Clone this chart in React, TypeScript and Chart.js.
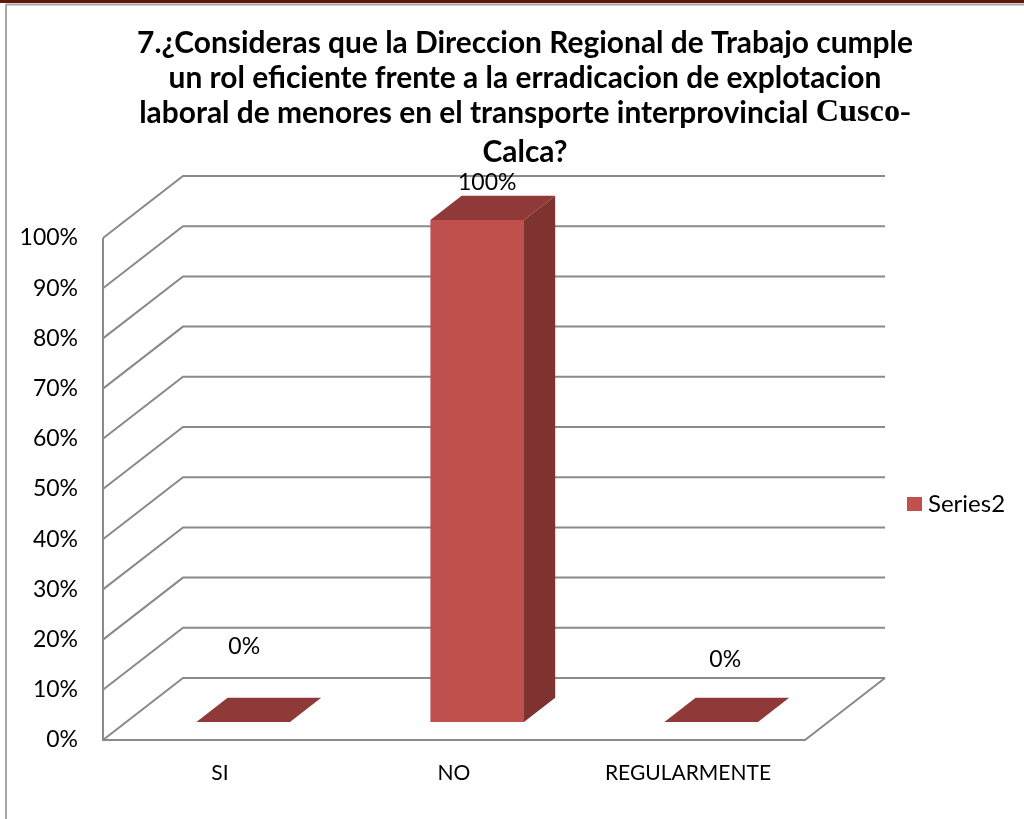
import React, { useEffect, useRef } from "react";
import { Chart, registerables } from "chart.js";

Chart.register(...registerables);

// ---- data ----
const categories: string[] = ["SI", "NO", "REGULARMENTE"];
const seriesName = "Series2";
const seriesValues: number[] = [0, 100, 0];
const valueLabels: string[] = ["0%", "100%", "0%"];
const yMin = 0;
const yMax = 100;
const yStep = 10;
const titleLines: [string, string][] = [
  ["7.¿Consideras que la Direccion Regional de Trabajo cumple", ""],
  ["un rol eficiente frente a la erradicacion de explotacion", ""],
  ["laboral de menores en el transporte interprovincial ", "Cusco-"],
  ["Calca?", ""],
];

// ---- style / layout ----
const W = 1024;
const H = 819;
const DEPTH_X = 80;
const DEPTH_Y = -62;
const BAR_FRONT = 0.29;
const BAR_BACK = 0.68;
const BAR_FRACTION = 0.4;
const FRONT_COLOR = "#C0504D";
const SIDE_COLOR = "#7F3331";
const TOP_COLOR = "#8F3A38";
const GRID_COLOR = "#8A8A8A";
const FONT = "Lato, 'Open Sans', sans-serif";
const NUM_SIZE = 23;
const labelShift: [number, number][] = [
  [1, -75],
  [10, -37],
  [14, -62],
];

const threeDPlugin = {
  id: "threeD",
  beforeDraw(chart: any) {
    const ctx: CanvasRenderingContext2D = chart.ctx;
    const { left, right, top, bottom } = chart.chartArea;
    const ys = chart.scales.y;
    ctx.save();
    ctx.fillStyle = "#ffffff";
    ctx.fillRect(0, 0, W, H);
    // page frame
    ctx.fillStyle = "#5E1A0D";
    ctx.fillRect(0, 0, W, 3);
    ctx.strokeStyle = "#A6A6A6";
    ctx.lineWidth = 2;
    ctx.beginPath();
    ctx.moveTo(6, 4.5);
    ctx.lineTo(W, 4.5);
    ctx.moveTo(6, 4);
    ctx.lineTo(6, H);
    ctx.stroke();

    // title
    ctx.fillStyle = "#000000";
    ctx.textBaseline = "middle";
    let size = 24;
    ctx.font = `bold ${size}px ${FONT}`;
    const w1 = ctx.measureText(titleLines[0][0]).width;
    size = (size * 776) / w1;
    const cx = 525;
    const lineYs = [43, 78, 113, 152];
    const serif = (s: number) => `bold ${s * 1.08}px 'Liberation Serif', 'Times New Roman', serif`;
    titleLines.forEach((ln, i) => {
      ctx.font = `bold ${size}px ${FONT}`;
      const a = ctx.measureText(ln[0]).width;
      ctx.font = serif(size);
      const b = ln[1] ? ctx.measureText(ln[1]).width : 0;
      const x0 = cx - (a + b) / 2;
      ctx.textAlign = "left";
      ctx.font = `bold ${size}px ${FONT}`;
      ctx.fillText(ln[0], x0, lineYs[i]);
      if (ln[1]) {
        ctx.font = serif(size);
        ctx.fillText(ln[1], x0 + a, lineYs[i]);
      }
    });

    // walls
    ctx.strokeStyle = GRID_COLOR;
    ctx.lineWidth = 2;
    ctx.lineJoin = "miter";
    ys.ticks.forEach((t: any) => {
      const py = ys.getPixelForValue(t.value);
      ctx.beginPath();
      ctx.moveTo(left, py);
      ctx.lineTo(left + DEPTH_X, py + DEPTH_Y);
      ctx.lineTo(right + DEPTH_X, py + DEPTH_Y);
      ctx.stroke();
    });
    ctx.beginPath();
    ctx.moveTo(left, top);
    ctx.lineTo(left, bottom);
    ctx.lineTo(right, bottom);
    ctx.lineTo(right + DEPTH_X, bottom + DEPTH_Y);
    ctx.stroke();
    ctx.restore();
  },
  beforeDatasetsDraw(chart: any) {
    const ctx: CanvasRenderingContext2D = chart.ctx;
    const xs = chart.scales.x;
    const ys = chart.scales.y;
    const ds = chart.data.datasets[0];
    const catW = xs.width / chart.data.labels.length;
    const hw = (catW * BAR_FRACTION) / 2;
    const fx = BAR_FRONT * DEPTH_X;
    const fy = BAR_FRONT * DEPTH_Y;
    const bx = BAR_BACK * DEPTH_X;
    const by = BAR_BACK * DEPTH_Y;
    const y0 = ys.getPixelForValue(0);
    ctx.save();
    (ds.data as number[]).forEach((v, i) => {
      const xc = xs.getPixelForValue(i);
      const xl = xc - hw;
      const xr = xc + hw;
      const yv = ys.getPixelForValue(v);
      const poly = (pts: number[][], color: string) => {
        ctx.beginPath();
        ctx.moveTo(pts[0][0], pts[0][1]);
        for (let k = 1; k < pts.length; k++) ctx.lineTo(pts[k][0], pts[k][1]);
        ctx.closePath();
        ctx.fillStyle = color;
        ctx.fill();
      };
      if (y0 - yv > 0.5) {
        poly(
          [
            [xl + fx, yv + fy],
            [xr + fx, yv + fy],
            [xr + fx, y0 + fy],
            [xl + fx, y0 + fy],
          ],
          FRONT_COLOR
        );
        poly(
          [
            [xr + fx, yv + fy],
            [xr + bx, yv + by],
            [xr + bx, y0 + by],
            [xr + fx, y0 + fy],
          ],
          SIDE_COLOR
        );
      }
      poly(
        [
          [xl + fx, yv + fy],
          [xr + fx, yv + fy],
          [xr + bx, yv + by],
          [xl + bx, yv + by],
        ],
        TOP_COLOR
      );
      ctx.fillStyle = "#000000";
      ctx.font = `${NUM_SIZE}px ${FONT}`;
      ctx.textAlign = "center";
      ctx.textBaseline = "middle";
      const sh = labelShift[i] || [0, -30];
      ctx.fillText(valueLabels[i], xc + fx + sh[0], yv + fy + sh[1]);
    });

    // legend
    const lx = chart.chartArea.right + 102;
    const ly = (chart.chartArea.top + chart.chartArea.bottom) / 2 + 15;
    ctx.fillStyle = ds.backgroundColor;
    ctx.fillRect(lx, ly - 7, 15, 14);
    ctx.fillStyle = "#000000";
    ctx.font = `24px ${FONT}`;
    ctx.textAlign = "left";
    ctx.textBaseline = "middle";
    ctx.fillText(ds.label, lx + 21, ly);
    ctx.restore();
    return false;
  },
};

export default function App() {
  const ref = useRef<HTMLCanvasElement | null>(null);
  useEffect(() => {
    if (!ref.current) return;
    const chart = new Chart(ref.current, {
      type: "bar",
      data: {
        labels: categories,
        datasets: [
          {
            label: seriesName,
            data: seriesValues,
            backgroundColor: FRONT_COLOR,
          },
        ],
      },
      options: {
        animation: false,
        responsive: false,
        devicePixelRatio: 1,
        layout: { padding: { left: 0, top: 238, right: W - 805, bottom: 0 } },
        plugins: {
          legend: { display: false },
          title: { display: false },
          tooltip: { enabled: false },
        },
        scales: {
          x: {
            grid: { display: false, drawTicks: false },
            border: { display: false },
            ticks: { color: "#000000", font: { family: FONT, size: 21 }, padding: 21 },
            afterFit: (s: any) => {
              s.height = H - 740;
            },
          },
          y: {
            min: yMin,
            max: yMax,
            grid: { display: false, drawTicks: false },
            border: { display: false },
            ticks: {
              stepSize: yStep,
              color: "#000000",
              font: { family: FONT, size: NUM_SIZE },
              padding: 25,
              callback: (v: any) => `${v}%`,
            },
            afterFit: (s: any) => {
              s.width = 103;
            },
          },
        },
      },
      plugins: [threeDPlugin],
    } as any);
    return () => chart.destroy();
  }, []);
  return (
    <div style={{ position: "absolute", left: 0, top: 0, width: W, height: H }}>
      <canvas ref={ref} width={W} height={H} style={{ width: W, height: H, display: "block" }} />
    </div>
  );
}
